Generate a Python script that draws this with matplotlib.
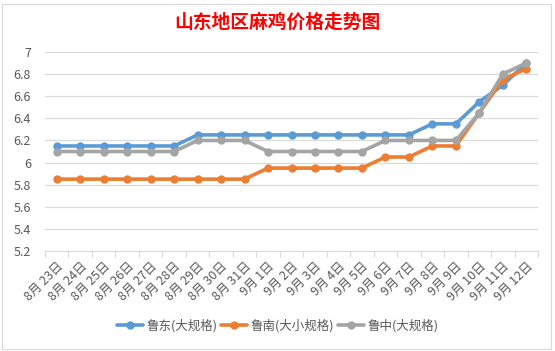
import matplotlib.pyplot as plt
from matplotlib.patches import Rectangle

plt.rcParams['font.family'] = ['Noto Sans CJK SC', 'DejaVu Sans']

dates = ['8月 23日', '8月 24日', '8月 25日', '8月 26日', '8月 27日', '8月 28日', '8月 29日',
         '8月 30日', '8月 31日', '9月 1日', '9月 2日', '9月 3日', '9月 4日', '9月 5日',
         '9月 6日', '9月 7日', '9月 8日', '9月 9日', '9月 10日', '9月 11日', '9月 12日']
ludong = [6.15, 6.15, 6.15, 6.15, 6.15, 6.15, 6.25, 6.25, 6.25, 6.25, 6.25, 6.25, 6.25, 6.25,
          6.25, 6.25, 6.35, 6.35, 6.55, 6.7, 6.9]
lunan = [5.85, 5.85, 5.85, 5.85, 5.85, 5.85, 5.85, 5.85, 5.85, 5.95, 5.95, 5.95, 5.95, 5.95,
         6.05, 6.05, 6.15, 6.15, 6.45, 6.75, 6.85]
luzhong = [6.1, 6.1, 6.1, 6.1, 6.1, 6.1, 6.2, 6.2, 6.2, 6.1, 6.1, 6.1, 6.1, 6.1,
           6.2, 6.2, 6.2, 6.2, 6.45, 6.8, 6.9]
names = ['鲁东(大规格)', '鲁南(大小规格)', '鲁中(大规格)']
colors = ['#5B9BD5', '#ED7D31', '#A5A5A5']

W, H = 555, 351
fig = plt.figure(figsize=(W / 100, H / 100), dpi=100)
fig.patches.append(Rectangle((2 / W, 2 / H), 549 / W, 345 / H, transform=fig.transFigure,
                             fill=False, edgecolor='#D9D9D9', linewidth=0.8))

# plot area: x 45..538 px, y 52 (7.0) .. 251 (5.2)
ax = fig.add_axes([45 / W, 1 - 251 / H, 493 / W, 199 / H])
x = list(range(len(dates)))
for ys, name, c in zip([ludong, lunan, luzhong], names, colors):
    ax.plot(x, ys, color=c, linewidth=2.6, marker='o', markersize=5, label=name,
            solid_capstyle='round')

ax.set_xlim(-0.5, len(dates) - 0.5)
ax.set_ylim(5.2, 7.0)
yt = [5.2, 5.4, 5.6, 5.8, 6.0, 6.2, 6.4, 6.6, 6.8, 7.0]
ax.set_yticks(yt)
ax.set_yticklabels(['5.2', '5.4', '5.6', '5.8', '6', '6.2', '6.4', '6.6', '6.8', '7'])
ax.yaxis.grid(True, color='#D9D9D9', linewidth=0.8)
ax.set_axisbelow(True)
for s in ['top', 'right', 'left']:
    ax.spines[s].set_visible(False)
ax.spines['bottom'].set_color('#D9D9D9')
ax.tick_params(axis='y', length=0, labelsize=9, labelcolor='#595959', pad=10)

ax.set_xticks([i + 0.5 for i in range(-1, len(dates))], minor=False)
ax.set_xticklabels([])
ax.tick_params(axis='x', which='major', length=4, color='#D9D9D9')
ax.set_xticks(x, minor=True)
ax.set_xticklabels(dates, minor=True, rotation=45, ha='right', va='top',
                   rotation_mode='anchor', fontsize=9, color='#595959')
ax.tick_params(axis='x', which='minor', length=0, pad=6)

fig.text(0.5, 1 - 22 / H, '山东地区麻鸡价格走势图', ha='center', va='center',
         fontsize=13.5, fontweight='bold', color='#FF0000')
fig.legend(loc='center', bbox_to_anchor=(0.5, 1 - 326 / H), ncol=3, frameon=False,
           fontsize=9, labelcolor='#595959', handlelength=2.1, columnspacing=0.3,
           handletextpad=0.25)

fig.savefig('out.png', dpi=100)
